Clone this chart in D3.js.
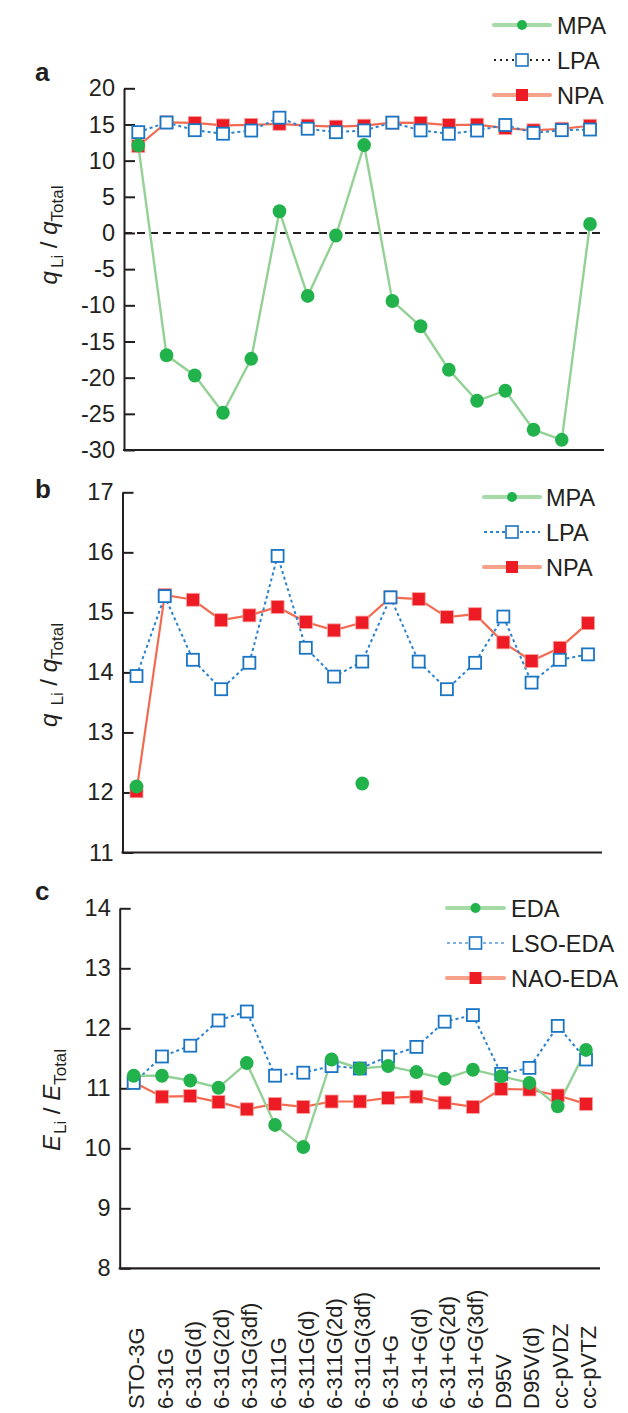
<!DOCTYPE html>
<html><head><meta charset="utf-8">
<script src="https://cdn.jsdelivr.net/npm/d3@7"></script>
<style>
body{margin:0;background:#fff;}
svg{display:block;font-family:"Liberation Sans",Arial,sans-serif;}
</style></head>
<body>
<svg id="chart" width="628" height="1413"></svg>
<script>
const categories = ["STO-3G","6-31G","6-31G(d)","6-31G(2d)","6-31G(3df)","6-311G","6-311G(d)","6-311G(2d)","6-311G(3df)","6-31+G","6-31+G(d)","6-31+G(2d)","6-31+G(3df)","D95V","D95V(d)","cc-pVDZ","cc-pVTZ"];
const mpa = [12.1, -16.9, -19.7, -24.85, -17.4, 3.0, -8.7, -0.35, 12.15, -9.4, -12.9, -18.9, -23.2, -21.8, -27.2, -28.6, 1.25];
const lpa = [13.94, 15.27, 14.21, 13.72, 14.16, 15.94, 14.41, 13.93, 14.18, 15.25, 14.18, 13.72, 14.16, 14.93, 13.83, 14.21, 14.30];
const npa = [12.02, 15.29, 15.21, 14.87, 14.95, 15.09, 14.84, 14.70, 14.83, 15.25, 15.22, 14.92, 14.97, 14.50, 14.19, 14.41, 14.82];
const eda = [11.21, 11.21, 11.13, 11.01, 11.42, 10.39, 10.02, 11.48, 11.33, 11.37, 11.27, 11.16, 11.31, 11.20, 11.09, 10.70, 11.64];
const lsoEda = [11.09, 11.53, 11.71, 12.13, 12.28, 11.21, 11.26, 11.37, 11.33, 11.53, 11.69, 12.11, 12.22, 11.24, 11.34, 12.04, 11.48];
const naoEda = [11.10, 10.86, 10.87, 10.77, 10.65, 10.74, 10.69, 10.78, 10.78, 10.84, 10.86, 10.76, 10.69, 10.99, 10.98, 10.88, 10.74];
const ticksA = [-30,-25,-20,-15,-10,-5,0,5,10,15,20];
const ticksB = [11,12,13,14,15,16,17];
const ticksC = [8,9,10,11,12,13,14];
const legendA = ["MPA","LPA","NPA"];
const legendC = ["EDA","LSO-EDA","NAO-EDA"];

const svg = d3.select("#chart");
const C = {
  gMark:"#22b24c", gLine:"#93d196", gLeg:"#a6dba7",
  rMark:"#ed1c24", rLine:"#f26a4f", rLeg:"#f7a08a",
  bMark:"#1a75c4", bLine:"#2b83d0", bLeg:"#7fb2e0"
};

function panel(o){
  const g = svg.append("g");
  const x = d3.scalePoint().domain(categories).range(o.xr);
  const y = d3.scaleLinear().domain(o.dom).range(o.yr);
  const ax = g.append("g").attr("transform",`translate(${o.ax},0)`)
    .call(d3.axisLeft(y).tickValues(o.ticks).tickSizeInner(-11).tickSizeOuter(0).tickPadding(9).tickFormat(d=>String(d)));
  ax.select(".domain").attr("stroke","#231f20").attr("stroke-width",2);
  ax.selectAll(".tick line").attr("stroke","#231f20").attr("stroke-width",2);
  ax.selectAll(".tick text").attr("font-size",23.5).attr("fill","#231f20").attr("font-family","Liberation Sans, Arial, sans-serif");
  g.append("line").attr("x1",o.ax-1).attr("x2",o.xend).attr("y1",y(o.dom[0])).attr("y2",y(o.dom[0]))
    .attr("stroke","#231f20").attr("stroke-width",2.2);
  if(o.zero){
    g.append("line").attr("x1",o.ax).attr("x2",o.xend).attr("y1",y(0)).attr("y2",y(0))
      .attr("stroke","#231f20").attr("stroke-width",2).attr("stroke-dasharray","8,5");
  }
  const inR = v => v>=o.dom[0] && v<=o.dom[1];
  const line = d3.line().x((d,i)=>x(categories[i])).y(d=>y(d));
  const [gs, bs, rs] = o.series;
  g.append("path").attr("d",line(rs)).attr("fill","none").attr("stroke",C.rLine).attr("stroke-width",2.2);
  g.append("path").attr("d",line(bs)).attr("fill","none").attr("stroke",C.bLine).attr("stroke-width",2).attr("stroke-dasharray","3,3");
  if(o.greenLine) g.append("path").attr("d",line(gs)).attr("fill","none").attr("stroke",C.gLine).attr("stroke-width",2.4);
  const S = 13;
  g.selectAll(".rm").data(rs).join("rect").attr("x",(d,i)=>x(categories[i])-S/2).attr("y",d=>y(d)-S/2)
    .attr("width",S).attr("height",S).attr("fill",C.rMark).attr("stroke","#f4a4a0").attr("stroke-width",0.8);
  g.selectAll(".bm").data(bs).join("rect").attr("x",(d,i)=>x(categories[i])-S/2+0.5).attr("y",d=>y(d)-S/2+0.5)
    .attr("width",S-1).attr("height",S-1).attr("fill","#fff").attr("stroke",C.bMark).attr("stroke-width",1.8);
  const gd = gs.map((v,i)=>({v,i})).filter(d=>inR(d.v));
  g.selectAll(".gm").data(gd).join("ellipse").attr("cx",d=>x(categories[d.i])).attr("cy",d=>y(d.v))
    .attr("rx",6.8).attr("ry",7).attr("fill",C.gMark);
  svg.append("text").attr("x",o.letter[0]).attr("y",o.letter[1]).attr("font-size",26).attr("font-weight","bold")
    .attr("fill","#231f20").text(o.letterText);
  const t = svg.append("text").attr("transform",`translate(${o.title[0]},${o.title[1]}) rotate(-90)`)
    .attr("text-anchor","middle").attr("font-size",24).attr("fill","#231f20");
  t.append("tspan").attr("font-style","italic").text(o.sym);
  t.append("tspan").attr("font-size",17).attr("dy",6).attr("dx",o.subdx).text("Li");
  t.append("tspan").attr("dy",-6).text(" / ");
  t.append("tspan").attr("font-style","italic").text(o.sym);
  t.append("tspan").attr("font-size",17).attr("dy",6).text("Total");
  const L = o.leg;
  o.legNames.forEach((name,k)=>{
    const yy = L.y + k*35;
    const lg = svg.append("g");
    if(k===0){
      lg.append("line").attr("x1",L.x0).attr("x2",L.x1).attr("y1",yy).attr("y2",yy).attr("stroke",C.gLeg).attr("stroke-width",4).attr("stroke-linecap","round");
      lg.append("circle").attr("cx",(L.x0+L.x1)/2).attr("cy",yy).attr("r",5).attr("fill",C.gMark);
    } else if(k===1){
      lg.append("line").attr("x1",L.x0).attr("x2",L.x1).attr("y1",yy).attr("y2",yy).attr("stroke",L.dotColor).attr("stroke-width",2).attr("stroke-dasharray",L.dash);
      lg.append("rect").attr("x",(L.x0+L.x1)/2-6).attr("y",yy-6).attr("width",12).attr("height",12).attr("fill","#fff").attr("stroke",C.bMark).attr("stroke-width",1.6);
    } else {
      lg.append("line").attr("x1",L.x0).attr("x2",L.x1).attr("y1",yy).attr("y2",yy).attr("stroke",C.rLeg).attr("stroke-width",4).attr("stroke-linecap","round");
      lg.append("rect").attr("x",(L.x0+L.x1)/2-6).attr("y",yy-6).attr("width",12).attr("height",12).attr("fill",C.rMark);
    }
    lg.append("text").attr("x",L.tx).attr("y",yy+8.5).attr("font-size",23.5).attr("fill","#231f20").text(name);
  });
  return x;
}

panel({xr:[138.3,590], ax:124, xend:604, dom:[-30,20], yr:[450,88.3], ticks:ticksA, zero:true, greenLine:true,
  series:[mpa,lpa,npa], letter:[35,81], letterText:"a", title:[57,235], sym:"q", subdx:3,
  leg:{x0:494,x1:550,tx:557,y:25,dotColor:"#231f20",dash:"2,4"}, legNames:legendA});
const xb = panel({xr:[136.5,588], ax:122.5, xend:602, dom:[11,17], yr:[852.5,492.3], ticks:ticksB, zero:false, greenLine:false,
  series:[mpa,lpa,npa], letter:[35,498], letterText:"b", title:[57,675], sym:"q", subdx:8,
  leg:{x0:484,x1:540,tx:546,y:497,dotColor:C.bLine,dash:"3,3"}, legNames:legendA});
panel({xr:[133.7,586], ax:119.7, xend:600, dom:[8,14], yr:[1268.3,908.3], ticks:ticksC, zero:false, greenLine:true,
  series:[eda,lsoEda,naoEda], letter:[35,900], letterText:"c", title:[60,1100], sym:"E", subdx:1,
  leg:{x0:447,x1:504,tx:511,y:908,dotColor:C.bLeg,dash:"3,3"}, legNames:legendC});

svg.append("g").selectAll("text").data(categories).join("text")
  .attr("transform",d=>`translate(${xb(d)},1409) rotate(-90)`)
  .attr("dy","0.36em").attr("font-size",22).attr("fill","#231f20").text(d=>d);
</script>
</body></html>
